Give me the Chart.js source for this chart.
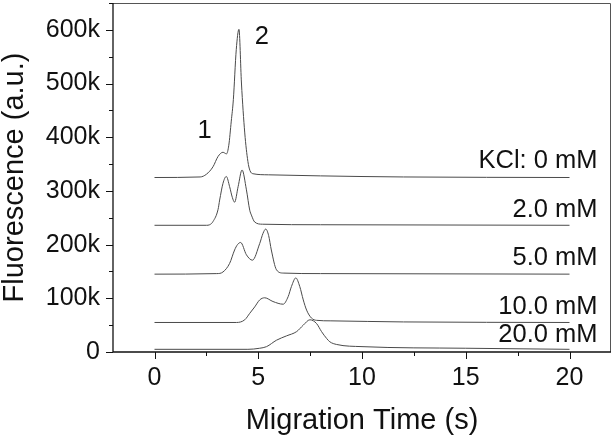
<!DOCTYPE html>
<html>
<head>
<meta charset="utf-8">
<script src="https://cdn.jsdelivr.net/npm/chart.js@4"></script>
<style>
  body { margin: 0; background: #fff; }
  canvas { display: block; }
</style>
</head>
<body>
<canvas id="myChart" width="615" height="440"></canvas>
<script>
// migration time (s) and fluorescence (k a.u.) for each KCl concentration
const t0 = [0, 2.2, 2.5, 2.82, 3.06, 3.3, 3.47, 3.58, 3.7, 3.8, 3.94, 4.07, 4.19, 4.35, 4.5, 4.6, 4.75, 5.5, 8, 12, 20];
const f0 = [325, 326, 331, 345, 364, 372, 369, 385, 430, 470, 563, 601, 501, 408, 355, 338, 332, 330, 328, 326, 325];

const t2 = [0, 2.5, 2.66, 2.82, 3.06, 3.14, 3.3, 3.46, 3.62, 3.75, 3.86, 4.03, 4.22, 4.43, 4.59, 4.67, 4.83, 5.2, 8, 20];
const f2 = [236, 236, 237, 243, 265, 283, 314, 327, 308, 288, 279, 308, 339, 302, 264, 255, 242, 238, 237, 236];

const t5 = [0, 3.0, 3.3, 3.62, 3.86, 4.0, 4.15, 4.43, 4.72, 5.07, 5.23, 5.36, 5.5, 5.63, 5.88, 6.2, 8, 20];
const f5 = [145, 146, 149, 165, 190, 200, 204, 181, 171, 202, 221, 229, 217, 190, 153, 147, 146, 145];

const t10 = [0, 3.95, 4.35, 4.59, 4.83, 5.07, 5.31, 5.71, 6.2, 6.44, 6.6, 6.81, 7.0, 7.17, 7.33, 7.57, 7.81, 8.5, 12, 20];
const f10 = [55, 55, 60, 72, 84, 97, 101, 94, 89, 103, 122, 138, 122, 97, 78, 63, 59, 58, 56, 55];

const t20 = [0, 4.5, 5.07, 5.4, 5.88, 6.36, 6.85, 7.17, 7.49, 7.81, 8.05, 8.3, 8.45, 8.78, 10, 15, 20];
const f20 = [5, 5, 7, 10, 22, 30, 38, 50, 60, 53, 38, 25, 19, 14, 10, 7, 5];

const seriesNames = ['KCl: 0 mM', '2.0 mM', '5.0 mM', '10.0 mM', '20.0 mM'];
const xTicks = [0, 5, 10, 15, 20];
const yTicks = [0, 100, 200, 300, 400, 500, 600];

function toPoints(t, f) {
  return t.map(function(x, i) { return {x: x, y: f[i]}; });
}

const traces = [[t0, f0], [t2, f2], [t5, f5], [t10, f10], [t20, f20]];
const datasets = traces.map(function(tr, i) {
  return {
    label: seriesNames[i],
    data: toPoints(tr[0], tr[1]),
    borderColor: '#4a4a4a',
    borderWidth: 1,
    pointRadius: 0,
    fill: false,
    cubicInterpolationMode: 'monotone'
  };
});

// text labels, placed in data units
const notes = [
  {text: '1', x: 2.42, y: 411, align: 'center'},
  {text: '2', x: 5.17, y: 587, align: 'center'},
  {text: seriesNames[0], x: 21.35, y: 355, align: 'right'},
  {text: seriesNames[1], x: 21.35, y: 265, align: 'right'},
  {text: seriesNames[2], x: 21.35, y: 175, align: 'right'},
  {text: seriesNames[3], x: 21.35, y: 84, align: 'right'},
  {text: seriesNames[4], x: 21.35, y: 32, align: 'right'}
];

const FONT = '"Liberation Sans", Arial, sans-serif';

const framePlugin = {
  id: 'frame',
  afterDraw: function(chart) {
    const c = chart.ctx;
    const a = chart.chartArea;
    const xs = chart.scales.x;
    const ys = chart.scales.y;
    c.save();
    c.lineWidth = 1;
    c.strokeStyle = '#555';
    c.beginPath();
    c.moveTo(a.left, a.top + 0.5);
    c.lineTo(a.right - 0.5, a.top + 0.5);
    c.lineTo(a.right - 0.5, a.bottom);
    c.stroke();
    c.strokeStyle = '#111';
    c.lineWidth = 1.3;
    c.beginPath();
    c.moveTo(a.left, a.top);
    c.lineTo(a.left, a.bottom);
    c.lineTo(a.right, a.bottom);
    c.stroke();
    // ticks, major and minor
    c.lineWidth = 1;
    c.beginPath();
    for (let v = 0; v <= 650; v += 50) {
      const py = Math.round(ys.getPixelForValue(v)) + 0.5;
      const len = v % 100 === 0 ? 7 : 4;
      c.moveTo(a.left - len, py);
      c.lineTo(a.left, py);
    }
    for (let v = 0; v <= 22; v += 2.5) {
      const px = Math.round(xs.getPixelForValue(v)) + 0.5;
      const len = v % 5 === 0 ? 7 : 4;
      c.moveTo(px, a.bottom);
      c.lineTo(px, a.bottom + len);
    }
    c.stroke();
    // notes
    c.fillStyle = '#111';
    c.font = '25.5px ' + FONT;
    c.textBaseline = 'middle';
    notes.forEach(function(n) {
      c.textAlign = n.align;
      c.fillText(n.text, xs.getPixelForValue(n.x), ys.getPixelForValue(n.y));
    });
    c.restore();
  }
};

const ctx = document.getElementById('myChart').getContext('2d');
const chart = new Chart(ctx, { // eslint-disable-line
  type: 'line',
  data: { datasets: datasets },
  plugins: [framePlugin],
  options: {
    responsive: false,
    animation: false,
    layout: { padding: { top: 3, right: 4, left: 0, bottom: 0 } },
    plugins: { legend: { display: false }, tooltip: { enabled: false } },
    scales: {
      x: {
        type: 'linear',
        min: -2,
        max: 22,
        afterFit: function(s) { s.height = 88; s.paddingLeft = 0; s.paddingRight = 0; },
        afterBuildTicks: function(s) { s.ticks = xTicks.map(function(v) { return {value: v}; }); },
        grid: { display: false, drawTicks: false },
        border: { display: false },
        ticks: { color: '#111', padding: 11, maxRotation: 0, font: { family: FONT, size: 25 } },
        title: {
          display: true,
          text: 'Migration Time (s)',
          color: '#111',
          font: { family: FONT, size: 29, lineHeight: 1 },
          padding: { top: 0, bottom: 5 }
        }
      },
      y: {
        type: 'linear',
        min: 0,
        max: 650,
        afterFit: function(s) { s.width = 113; s.paddingTop = 0; s.paddingBottom = 0; },
        afterBuildTicks: function(s) { s.ticks = yTicks.map(function(v) { return {value: v}; }); },
        grid: { display: false, drawTicks: false },
        border: { display: false },
        ticks: {
          color: '#111',
          padding: 13,
          font: { family: FONT, size: 25 },
          callback: function(v) { return v === 0 ? '0' : v + 'k'; }
        },
        title: {
          display: true,
          text: 'Fluorescence (a.u.)',
          color: '#111',
          font: { family: FONT, size: 29, lineHeight: 1 },
          padding: { top: 0, bottom: 0 }
        }
      }
    }
  }
});
</script>
</body>
</html>
